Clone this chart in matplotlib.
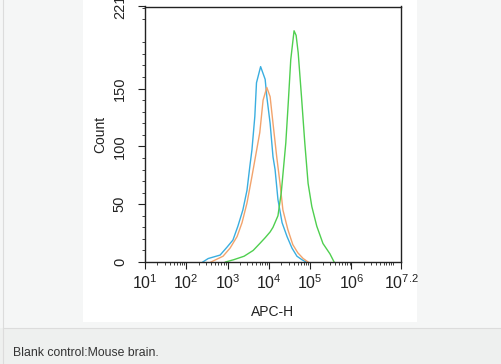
import numpy as np
import matplotlib.pyplot as plt
from matplotlib.patches import Rectangle
from matplotlib.lines import Line2D
from matplotlib.ticker import FixedLocator, NullFormatter

plt.rcParams['font.family'] = ['Liberation Sans', 'DejaVu Sans']

blue_log = [2.40, 2.53, 2.82, 2.99, 3.13, 3.25, 3.37, 3.47, 3.54, 3.59, 3.66, 3.70,
            3.80, 3.84, 3.91, 3.95, 4.03, 4.10, 4.15, 4.22, 4.32, 4.44, 4.56, 4.68, 4.80, 4.90]
blue_count = [0, 3, 6, 13, 19, 31, 45, 62, 83, 97, 126, 155,
              169, 165, 158, 143, 120, 91, 80, 54, 34, 22, 12, 5, 2, 0]

orange_log = [2.60, 2.89, 3.06, 3.23, 3.35, 3.47, 3.59, 3.68, 3.78, 3.86, 3.95, 4.03,
              4.10, 4.19, 4.27, 4.34, 4.46, 4.58, 4.70, 4.83, 4.95]
orange_count = [0, 5, 12, 22, 34, 51, 74, 92, 112, 140, 151, 143,
                120, 91, 68, 45, 28, 15, 8, 3, 0]

green_log = [2.95, 3.15, 3.40, 3.62, 3.78, 3.91, 4.03, 4.10, 4.22, 4.30, 4.41, 4.47,
             4.53, 4.61, 4.66, 4.71, 4.79, 4.87, 4.95, 5.04, 5.16, 5.31, 5.48, 5.58]
green_count = [0, 2, 5, 10, 16, 21, 26, 30, 40, 60, 103, 138,
               175, 200, 196, 181, 143, 103, 68, 48, 31, 16, 7, 0]

x_major_exp = [1, 2, 3, 4, 5, 6, 7.2]
x_major_labels = ['1', '2', '3', '4', '5', '6', '7.2']
y_major = [0, 50, 100, 150, 221]

fig = plt.figure(figsize=(5.01, 3.64), dpi=100)
fig.patch.set_facecolor('#f5f6f6')

# cadre de la page : fond, panneau blanc, zone de légende
W, H = 501, 364
def px_rect(x0, y0, x1, y1, **kw):
    fig.patches.append(Rectangle((x0 / W, 1 - y1 / H), (x1 - x0) / W, (y1 - y0) / H,
                                 transform=fig.transFigure, zorder=-10, **kw))

def px_line(xs, ys):
    fig.lines.append(Line2D([x / W for x in xs], [1 - y / H for y in ys],
                            transform=fig.transFigure, color='#dcdcdc', lw=0.8, zorder=-5))

px_rect(83, 0, 417, 322, facecolor='white', edgecolor='none')
px_rect(0, 328, 501, 364, facecolor='#eef0ef', edgecolor='none')
px_line([3, 3], [0, 364])
px_line([3, 501], [328, 328])
fig.text(13 / W, 1 - 353 / H, 'Blank control:Mouse brain.', fontsize=8.8,
         color='#333333', va='center', ha='left')

ax = fig.add_axes([145 / W, 1 - 262 / H, 256 / W, 255.5 / H])
ax.set_facecolor('white')

ax.plot(10 ** np.array(blue_log), blue_count, color='#3aaee0', lw=1.0)
ax.plot(10 ** np.array(orange_log), orange_count, color='#f2a36c', lw=1.0)
ax.plot(10 ** np.array(green_log), green_count, color='#4fcf4f', lw=1.0)

ax.set_xscale('log')
ax.set_xlim(10 ** 1, 10 ** 7.2)
ax.set_ylim(0, 221)

ax.set_xticks([10 ** e for e in x_major_exp])
ax.set_xticklabels([r'$\mathregular{10^{%s}}$' % s for s in x_major_labels])
minor_x = [m * 10 ** d for d in range(1, 7) for m in range(2, 10)] + [10 ** 7]
ax.xaxis.set_minor_locator(FixedLocator(minor_x))
ax.xaxis.set_minor_formatter(NullFormatter())

ax.set_yticks(y_major)
ax.set_yticklabels([str(v) for v in y_major], rotation=90, va='center')
ax.yaxis.set_minor_locator(FixedLocator([v for v in range(10, 221, 10) if v % 50 != 0]))

ax.tick_params(which='major', length=5, width=0.8, color='#222222',
               labelcolor='#222222', direction='out')
ax.tick_params(which='minor', length=2.5, width=0.6, color='#222222', direction='out')
ax.tick_params(axis='x', labelsize=11.5, pad=3)
ax.tick_params(axis='y', labelsize=10.5, pad=8)

for s in ax.spines.values():
    s.set_linewidth(1.0)
    s.set_color('#222222')

ax.set_xlabel('APC-H', fontsize=10, color='#222222', labelpad=9.5)
ax.set_ylabel('Count', fontsize=10, color='#222222', labelpad=4)

fig.savefig('out.png', dpi=100)
